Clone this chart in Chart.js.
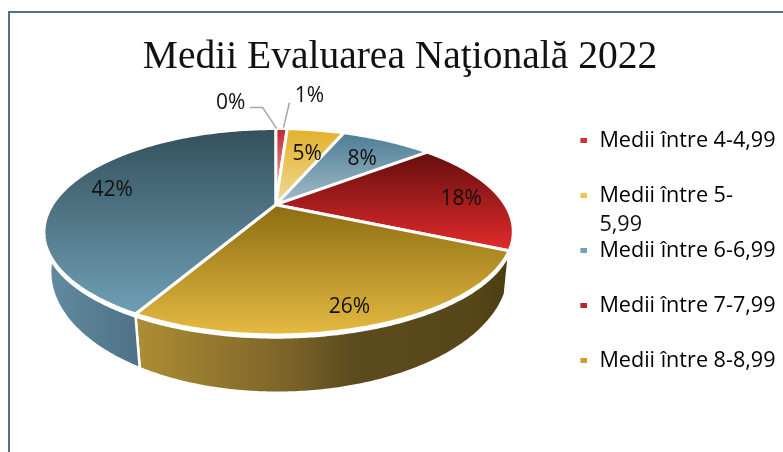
<!DOCTYPE html>
<html><head><meta charset="utf-8">
<style>html,body{margin:0;padding:0;background:#fff;overflow:hidden}#w{position:absolute;left:0;top:0;width:783px;height:452px}</style>
<script src="https://cdn.jsdelivr.net/npm/chart.js@4"></script>
</head><body><div id="w"><canvas id="c" width="783" height="452"></canvas></div>
<script>
// Data
const categories = ["Medii între 4-4,99","Medii între 5-5,99","Medii între 6-6,99","Medii între 7-7,99","Medii între 8-8,99","Medii între 9-9,99","Medii 10"];
const values = [1,5,8,18,26,42,0];
const chartTitle = "Medii Evaluarea Naţională 2022";
const legendCount = 5;
const markerColors = ["#cf3038","#f0c455","#74a0b5","#b52427","#c9a02e","#3f5f70","#bbbbbb"];

// Look of the slices: [top, bottom] of the vertical gradient on the face
const faceShades = [["#c0262d","#f3c3c5"],["#e3b12a","#f0d898"],["#4d7d95","#a3bdca"],["#640e0e","#e32b2b"],["#8d6d12","#e5ba42"],["#34505c","#6f9fb4"],["#999","#ccc"]];
const wallShades = {4:[[0,"#ad8e34"],[0.42,"#7a6228"],[0.58,"#5c4b1d"],[0.9,"#574718"],[1,"#4c3d12"]],5:[[0,"#618ca2"],[1,"#4f7185"]]};
const labelNudge = [[29,-48],[-2,9],[-6,5],[8,1],[3,8],[1,1],[-45,-41]];

// Projection of the pie disc, relative to the library's arc geometry
const TILT = 0.262, RX = 1.263, RY = 0.536, RX2 = 1.235, RY2 = 0.63, SHIFT_X = -5, SHIFT_Y = -68, SHIFT_Y2 = -33, BULGE = 3;
const FONT = '"Open Sans"', LEGEND_SIZE = 21.6, LEGEND_ROW = 55;

function rim(arc, theta, r, lower){
  const R = arc.outerRadius, u = Math.sin(theta)*r, v = -Math.cos(theta)*r, w = 1 - TILT*v;
  const cx = arc.x + SHIFT_X + (lower?1:0), cy = arc.y + (lower?SHIFT_Y2:SHIFT_Y);
  return {x: cx + R*(lower?RX2:RX)*u/w + BULGE*Math.abs(u), y: cy + R*(lower?RY2:RY)*v/w};
}
const angle = (a)=>a + Math.PI/2;

const pie3d = {
  id:'pie3d',
  beforeDraw(chart){
    const c = chart.ctx; c.save();
    c.fillStyle='#fff'; c.fillRect(0,0,chart.width,chart.height);
    c.strokeStyle='#4f7286'; c.lineWidth=2; c.strokeRect(9,12,900,900);
    c.restore();
  },
  afterLayout(chart){
    const l = chart.legend, d = 547 - l.left;
    l.left += d; l.right += d;
    l.top = 96.4; l.bottom = 452;
  },
  beforeDatasetDraw(chart){
    const c = chart.ctx, arcs = chart.getDatasetMeta(0).data;
    c.save(); c.lineJoin='round';
    // walls
    arcs.forEach((arc,i)=>{
      const shade = wallShades[i]; if(!shade || values[i]===0) return;
      const a = angle(arc.startAngle), b = Math.min(angle(arc.endAngle), Math.PI*1.6);
      const top=[],low=[];
      for(let t=a;t<b;t+=0.01){top.push(rim(arc,t,1,false));low.push(rim(arc,t,1,true));}
      top.push(rim(arc,b,1,false));low.push(rim(arc,b,1,true));
      const xs=top.concat(low).map(p=>p.x), x0=Math.min(...xs), x1=Math.max(...xs);
      const g=c.createLinearGradient(x0,0,x1,0); shade.forEach(s=>g.addColorStop(s[0],s[1]));
      c.beginPath(); top.forEach((p,k)=>k?c.lineTo(p.x,p.y+2.5):c.moveTo(p.x,p.y+2.5));
      low.reverse().forEach(p=>c.lineTo(p.x,p.y)); c.closePath();
      c.fillStyle=g; c.fill(); c.strokeStyle='#fff'; c.lineWidth=2.5; c.stroke();
    });
    // faces
    arcs.forEach((arc,i)=>{
      if(values[i]===0) return;
      const a=angle(arc.startAngle), b=angle(arc.endAngle), pts=[];
      for(let t=a;t<b;t+=0.01) pts.push(rim(arc,t,1,false));
      pts.push(rim(arc,b,1,false));
      const hub=rim(arc,0,0,false), ys=pts.map(p=>p.y).concat(hub.y);
      const g=c.createLinearGradient(0,Math.min(...ys),0,Math.max(...ys));
      g.addColorStop(0,faceShades[i][0]); g.addColorStop(1,faceShades[i][1]);
      c.beginPath(); c.moveTo(hub.x,hub.y); pts.forEach(p=>c.lineTo(p.x,p.y)); c.closePath();
      c.fillStyle=g; c.fill(); c.strokeStyle='#fff'; c.lineWidth=3; c.stroke();
    });
    c.restore();
    return false;
  },
  afterDatasetsDraw(chart){
    const c=chart.ctx, arcs=chart.getDatasetMeta(0).data;
    c.save();
    // leader lines
    c.strokeStyle='#a6a6a6'; c.lineWidth=1.5; c.lineJoin='round';
    const e0=rim(arcs[6],angle(arcs[6].startAngle),1,false);
    c.beginPath(); c.moveTo(e0.x-26,e0.y-21); c.lineTo(e0.x-13,e0.y-21); c.lineTo(e0.x+1,e0.y); c.stroke();
    const am=(arcs[0].startAngle+arcs[0].endAngle)/2, e1=rim(arcs[0],angle(am),1,false);
    c.beginPath(); c.moveTo(e1.x+8,e1.y-26); c.lineTo(e1.x+2,e1.y-1); c.stroke();
    // value labels
    c.fillStyle='#111'; c.font='21px '+FONT; c.textAlign='center'; c.textBaseline='middle';
    arcs.forEach((arc,i)=>{
      const p=rim(arc,angle((arc.startAngle+arc.endAngle)/2),0.8,false);
      c.fillText(values[i]+'%',p.x+labelNudge[i][0],p.y+labelNudge[i][1]+2.5);
    });
    c.restore();
  },
  afterDraw(chart){
    // wrapped tail of the second legend entry
    const c=chart.ctx, l=chart.legend, o=l.options.labels;
    c.save(); c.fillStyle='#111'; c.font=LEGEND_SIZE+'px '+FONT; c.textAlign='left'; c.textBaseline='middle';
    c.fillText('5,99', l.left+o.padding+o.boxWidth+LEGEND_SIZE/2, l.top+o.padding+LEGEND_ROW+LEGEND_SIZE/2+29);
    c.restore();
  }
};

new Chart(document.getElementById('c'),{
  type:'pie',
  data:{labels:categories,datasets:[{data:values,backgroundColor:markerColors,borderColor:'#fff',borderWidth:0}]},
  plugins:[pie3d],
  options:{
    responsive:false,animation:false,
    layout:{padding:{left:17,right:0,top:0,bottom:0}},
    plugins:{
      tooltip:{enabled:false},
      title:{display:true,text:chartTitle,color:'#111',font:{family:'"Liberation Serif"',size:39.5,weight:'normal',lineHeight:1.2},padding:{top:34,bottom:12}},
      legend:{position:'right',align:'start',
        labels:{boxWidth:8.2,boxHeight:5,padding:LEGEND_ROW-LEGEND_SIZE,color:'#111',font:{family:FONT,size:LEGEND_SIZE},
          filter:(it)=>it.index<legendCount,
          generateLabels(chart){
            return categories.map((t,i)=>{
              const g=chart.ctx.createLinearGradient(582,0,590.2,0);
              g.addColorStop(0,markerColors[i]);g.addColorStop(0.6,markerColors[i]);g.addColorStop(0.61,'rgba(255,255,255,0)');g.addColorStop(1,'rgba(255,255,255,0)');
              return {text:i===1?'Medii între 5-':t,fillStyle:g,strokeStyle:'transparent',lineWidth:0,index:i,hidden:false};
            });
          }
        }
      }
    }
  }
});
</script></body></html>
